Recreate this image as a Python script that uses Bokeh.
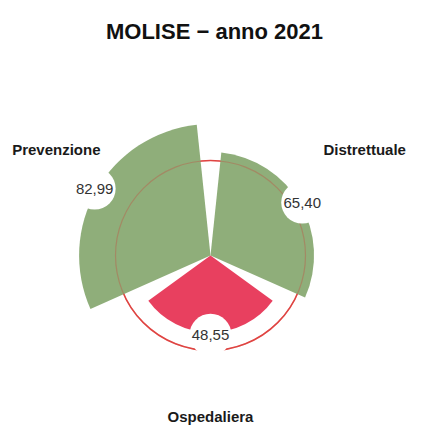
import math
from bokeh.plotting import figure
from bokeh.models import Range1d, ColumnDataSource
from bokeh.core.properties import value
from bokeh.embed import file_html
from bokeh.resources import INLINE

# ---- data ----
title_text = "MOLISE \u2212 anno 2021"
categories = ["Prevenzione", "Distrettuale", "Ospedaliera"]
scores = [82.99, 65.40, 48.55]
bar_colors = ["#8fae7a", "#8fae7a", "#e8405f"]
threshold = 60

# ---- geometry / style ----
W, H = 409, 428
cx, cy = 210, 255          # polar centre in figure pixels
k = 95 / 60                # pixels per score unit
span = 108                 # degrees per wedge
FONT = value("Liberation Sans")

p = figure(width=W, height=H, output_backend="svg", toolbar_location=None,
           x_range=Range1d(-cx / k, (W - cx) / k),
           y_range=Range1d(-(H - cy) / k, cy / k),
           x_axis_type=None, y_axis_type=None, min_border=0)
p.grid.visible = False
p.outline_line_color = None
p.background_fill_color = "white"

n = len(categories)
compass = [(300 + 360 / n * i) % 360 for i in range(n)]
start = [math.radians(90 - c - span / 2) for c in compass]
end = [math.radians(90 - c + span / 2) for c in compass]

src = ColumnDataSource(dict(x=[0] * n, y=[0] * n, r=scores, s=start, e=end,
                            color=bar_colors))

# threshold circle beneath bars
p.circle(x=[0], y=[0], radius=[threshold], fill_color=None,
         line_color="#e84646", line_width=1.6)

p.wedge(x="x", y="y", radius="r", start_angle="s", end_angle="e",
        fill_color="color", line_color=None, source=src)

# faint threshold line over bars
p.circle(x=[0], y=[0], radius=[threshold], fill_color=None,
         line_color="#c8463c", line_width=1.2, line_alpha=0.35)

# value labels with white round background
lx = [(v + 1.5) * math.sin(math.radians(c)) for v, c in zip(scores, compass)]
ly = [(v + 1.5) * math.cos(math.radians(c)) for v, c in zip(scores, compass)]
labels = [f"{v:.2f}".replace(".", ",") for v in scores]
lsrc = ColumnDataSource(dict(x=lx, y=ly, t=labels))
p.scatter(x="x", y="y", size=42, marker="circle", fill_color="white",
          line_color=None, source=lsrc)
p.text(x="x", y="y", text="t", source=lsrc, text_align="center",
       text_baseline="middle", text_font=FONT, text_font_size="15px",
       text_color="#333333")

# category labels
R = 178 / k
lift = 17 / k
cxl = [R * math.sin(math.radians(c)) for c in compass]
cyl = [R * math.cos(math.radians(c)) + lift for c in compass]
csrc = ColumnDataSource(dict(x=cxl, y=cyl, t=categories))
p.text(x="x", y="y", text="t", source=csrc, text_align="center",
       text_baseline="middle", text_font=FONT, text_font_size="15px",
       text_font_style="bold", text_color="#1a1a1a")

# title
p.text(x=[(214 - cx) / k], y=[(cy - 30.7) / k], text=[title_text],
       text_align="center", text_baseline="alphabetic", text_font=FONT,
       text_font_size="22px", text_font_style="bold", text_color="#111111")

open("out.html", "w").write(file_html(p, INLINE))
